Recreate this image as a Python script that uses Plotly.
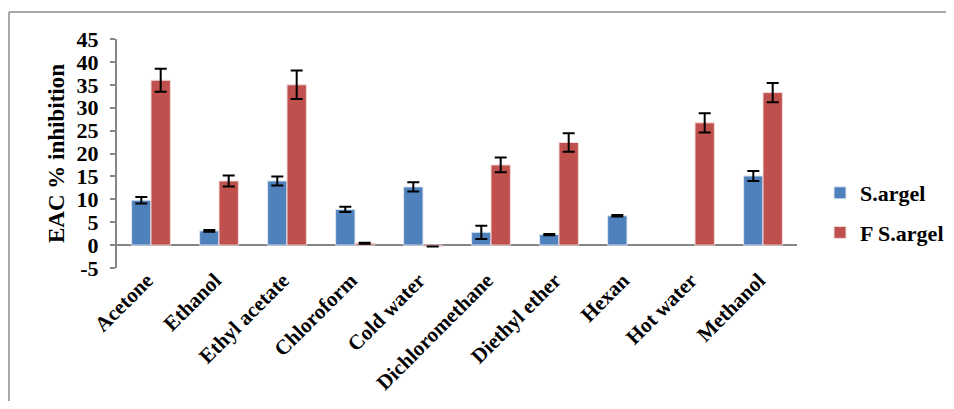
import plotly.graph_objects as go

categories = ["Acetone", "Ethanol", "Ethyl acetate", "Chloroform", "Cold water",
              "Dichloromethane", "Diethyl ether", "Hexan", "Hot water", "Methanol"]
s_argel = [9.8, 3.1, 14.0, 7.8, 12.7, 2.8, 2.3, 6.4, None, 15.1]
s_argel_err = [0.7, 0.2, 1.0, 0.6, 1.0, 1.45, 0.15, 0.15, None, 1.1]
f_s_argel = [36.0, 14.0, 35.0, 0.4, -0.3, 17.5, 22.4, None, 26.7, 33.3]
f_s_argel_err = [2.5, 1.2, 3.1, 0.1, None, 1.6, 2.0, None, 2.1, 2.1]
y_ticks = [-5, 0, 5, 10, 15, 20, 25, 30, 35, 40, 45]

FONT = "Liberation Serif"

# page body has an 8px margin on every side, so the figure is sized to fit
OFF = 8
L, T, PW, PH = 117 - OFF, 39 - OFF, 680, 229
W, H = 954 - 2 * OFF, 409 - 2 * OFF


def px_x(px):
    return (px - OFF - L) / PW


def px_y(py):
    return (T + PH - (py - OFF)) / PH


fig = go.Figure()
fig.add_trace(go.Bar(
    x=categories, y=s_argel, name="<b>S.argel</b>", legendgroup="a",
    marker=dict(color="#4F81BD", line=dict(color="#DCE6F2", width=1)),
    error_y=dict(type="data", array=s_argel_err, visible=True,
                 color="black", thickness=2, width=6),
))
fig.add_trace(go.Bar(
    x=categories, y=f_s_argel, name="<b>F S.argel</b>", legendgroup="b",
    marker=dict(color="#C0504D", line=dict(color="#F2DCDB", width=1)),
    error_y=dict(type="data", array=f_s_argel_err, visible=True,
                 color="black", thickness=2, width=6),
))

fig.update_layout(
    width=W, height=H,
    margin=dict(l=L, r=W - L - PW, t=T, b=H - T - PH, pad=0, autoexpand=False),
    paper_bgcolor="white", plot_bgcolor="white",
    barmode="group", bargap=0.43, bargroupgap=0.0,
    font=dict(family=FONT, color="black", size=18),
    showlegend=True,
    legend=dict(xref="container", yref="container",
                x=(820 - OFF) / W, y=1 - (213 - OFF) / H,
                xanchor="left", yanchor="middle",
                font=dict(family=FONT, size=22, color="black"),
                itemwidth=30,
                traceorder="grouped", tracegroupgap=8,
                bgcolor="rgba(0,0,0,0)"),
    xaxis=dict(
        tickangle=-45, tickfont=dict(family=FONT, size=21, color="black"),
        showline=False, showgrid=False, ticks="",
        tickvals=categories, ticktext=["<b>%s</b>" % c for c in categories],
        ticklabelshift=-4, ticklabelstandoff=-5,
    ),
    yaxis=dict(
        range=[-5, 45], tickvals=y_ticks,
        ticktext=["<b>%d</b>" % v for v in y_ticks],
        tickfont=dict(family=FONT, size=22, color="black"),
        showline=True, linecolor="#868686", linewidth=2,
        ticks="outside", ticklen=5, tickcolor="#868686", tickwidth=2,
        ticklabelstandoff=7,
        showgrid=False, zeroline=True, zerolinecolor="#868686", zerolinewidth=2,
        title=dict(text="<b>EAC % inhibition</b>",
                   font=dict(family=FONT, size=23, color="black"), standoff=6),
    ),
    shapes=[
        dict(type="line", xref="paper", yref="paper",
             x0=px_x(9), x1=px_x(960), y0=px_y(12), y1=px_y(12),
             line=dict(color="#8C8C8C", width=1.5)),
        dict(type="line", xref="paper", yref="paper",
             x0=px_x(9), x1=px_x(9), y0=px_y(12), y1=px_y(420),
             line=dict(color="#8C8C8C", width=1.5)),
    ],
)

fig.write_html("out.html", config={"displayModeBar": False})
